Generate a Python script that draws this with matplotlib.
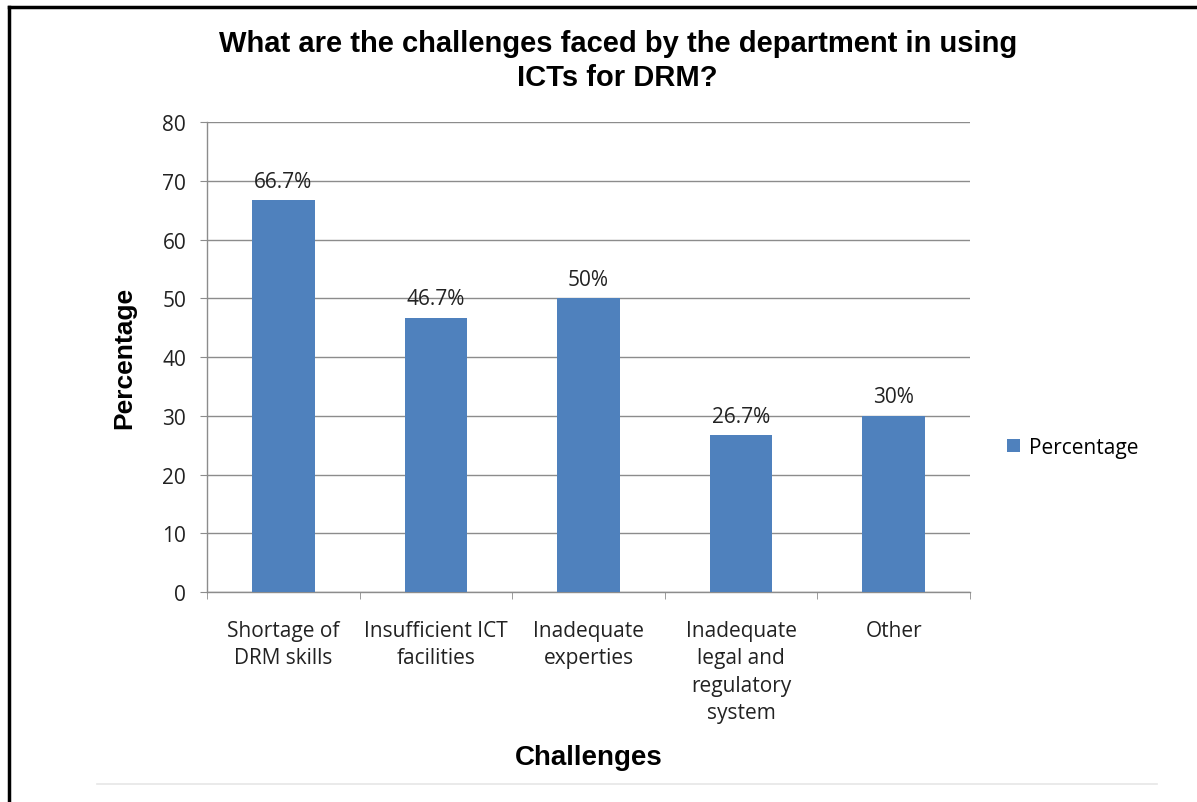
import matplotlib
matplotlib.use("Agg")
import matplotlib.pyplot as plt
from matplotlib.lines import Line2D

categories = ["Shortage of\nDRM skills", "Insufficient ICT\nfacilities", "Inadequate\nexperties",
              "Inadequate\nlegal and\nregulatory\nsystem", "Other"]
values = [66.7, 46.7, 50, 26.7, 30]
value_labels = ["66.7%", "46.7%", "50%", "26.7%", "30%"]
y_ticks = [0, 10, 20, 30, 40, 50, 60, 70, 80]
series_name = "Percentage"

bar_color = "#4f81bd"
grid_color = "#8c8c8c"
tick_font = "Open Sans"
title_font = "Liberation Sans"
fs = 15

fig = plt.figure(figsize=(11.97, 8.03), dpi=100)
ax = fig.add_axes([0.1729, 0.2615, 0.8104 - 0.1729, 0.8468 - 0.2615])

x = list(range(len(categories)))
bars = ax.bar(x, values, width=0.41, color=bar_color, label=series_name, zorder=3)

ax.set_xlim(-0.5, len(categories) - 0.5)
ax.set_ylim(0, 80)
ax.set_yticks(y_ticks)
ax.set_yticklabels([str(t) for t in y_ticks], fontsize=fs, family=tick_font, color="#222222")
ax.yaxis.grid(True, color=grid_color, linewidth=1.0, zorder=0)
ax.set_axisbelow(True)

ax.set_xticks(x)
ax.set_xticklabels(categories, fontsize=fs, family=tick_font, color="#222222", linespacing=1.4)
ax.tick_params(axis="x", length=0, pad=20)
ax.tick_params(axis="y", length=5, color=grid_color, pad=10)

# minor ticks between categories for separators
ax.set_xticks([i - 0.5 for i in range(len(categories) + 1)], minor=True)
ax.tick_params(axis="x", which="minor", length=5, color=grid_color, direction="out")

for s in ["top", "right"]:
    ax.spines[s].set_visible(False)
for s in ["left", "bottom"]:
    ax.spines[s].set_color(grid_color)
    ax.spines[s].set_linewidth(1.0)

for rect, lab in zip(bars, value_labels):
    ax.annotate(lab, (rect.get_x() + rect.get_width() / 2, rect.get_height()),
                xytext=(0, 6), textcoords="offset points", ha="center", va="bottom",
                fontsize=fs, family=tick_font, color="#222222")

ax.set_ylabel("Percentage", fontsize=19, fontweight="bold", family=title_font, labelpad=19)
ax.set_xlabel("Challenges", fontsize=20, fontweight="bold", family=title_font, labelpad=15)

fig.text(0.516, 0.924, "What are the challenges faced by the department in using\nICTs for DRM?",
         ha="center", va="center", fontsize=21, fontweight="bold", family=title_font,
         linespacing=1.3)

leg = ax.legend(loc="center left", bbox_to_anchor=(1.024, 0.308), frameon=False,
                prop={"family": tick_font, "size": fs}, handlelength=0.6, handleheight=0.6,
                handletextpad=0.45)

# frame lines of the original picture
fig.add_artist(Line2D([0.0075, 0.0075], [0, 0.990], color="black", linewidth=2.5,
                      transform=fig.transFigure))
fig.add_artist(Line2D([0.0075, 1.0], [0.990, 0.990], color="black", linewidth=2.5,
                      transform=fig.transFigure))
fig.add_artist(Line2D([0.081, 0.967], [1 - 785 / 803, 1 - 785 / 803], color="#e6e6e6",
                      linewidth=1.2, transform=fig.transFigure))

fig.savefig("out.png", dpi=100)
